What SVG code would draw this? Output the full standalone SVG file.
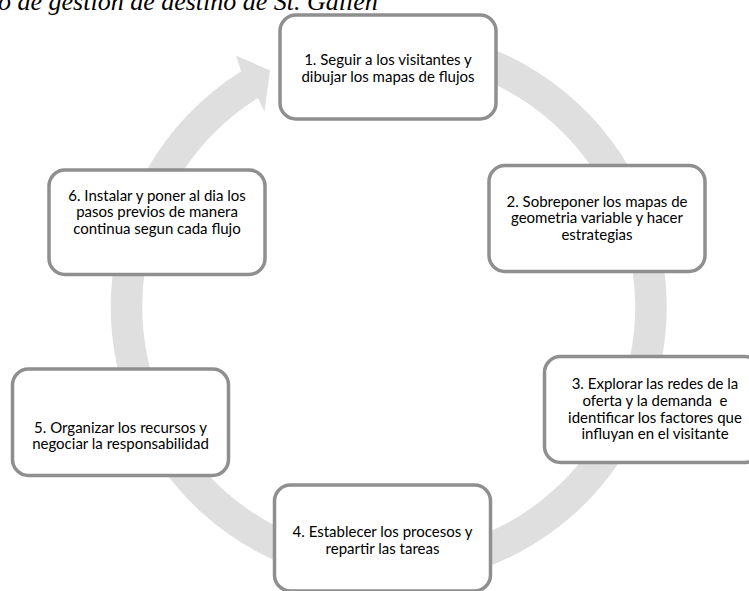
<svg xmlns="http://www.w3.org/2000/svg" width="749" height="591" viewBox="0 0 749 591">
  <style>
    .node rect { fill: #ffffff; stroke: #8f8f8f; stroke-width: 3.5; }
    .node text { font-family: Lato, "Liberation Sans", sans-serif; font-size: 15px; fill: #000000; text-anchor: middle; }
    .title { font-family: "Liberation Serif", serif; font-style: italic; font-size: 26px; fill: #000000; }
    .ring { fill: #dfdfdf; stroke: none; }
  </style>
  <rect x="0" y="0" width="749" height="591" fill="#ffffff"/>
  <text class="title" x="-2" y="10">o de gestion de destino de St. Gallen</text>
  <g id="connectors">
    <path class="ring" d="M340.2,33.2 A278,278 0 1 1 241.2,71.3 L236,55.5 L270,70.5 L264.5,111.5 L257.9,98 A246.5,246.5 0 1 0 345.7,64.2 Z"/>
  </g>
  <g id="node1" class="node">
    <rect x="280" y="15" width="216" height="104" rx="16" ry="16"/>
    <text x="388" y="65">1. Seguir a los visitantes y</text>
    <text x="388" y="81.7">dibujar los mapas de flujos</text>
  </g>
  <g id="node2" class="node">
    <rect x="489" y="165.5" width="216" height="106" rx="16" ry="16"/>
    <text x="597" y="206.7">2. Sobreponer los mapas de</text>
    <text x="597" y="223.3">geometria variable y hacer</text>
    <text x="597" y="240">estrategias</text>
  </g>
  <g id="node3" class="node">
    <rect x="544.5" y="356.5" width="216" height="106" rx="16" ry="16"/>
    <text x="655" y="389.3">3. Explorar las redes de la</text>
    <text x="655" y="406" xml:space="preserve">oferta y la demanda  e</text>
    <text x="655" y="422.7">identificar los factores que</text>
    <text x="655" y="439.3">influyan en el visitante</text>
  </g>
  <g id="node4" class="node">
    <rect x="274.5" y="485" width="216" height="106" rx="16" ry="16"/>
    <text x="382.5" y="537.3">4. Establecer los procesos y</text>
    <text x="382.5" y="554">repartir las tareas</text>
  </g>
  <g id="node5" class="node">
    <rect x="12.5" y="369" width="216" height="106.5" rx="16" ry="16"/>
    <text x="120.5" y="432.7">5. Organizar los recursos y</text>
    <text x="120.5" y="449.3">negociar la responsabilidad</text>
  </g>
  <g id="node6" class="node">
    <rect x="49" y="170" width="216" height="104.5" rx="16" ry="16"/>
    <text x="157" y="200.7">6. Instalar y poner al dia los</text>
    <text x="157" y="217.3">pasos previos de manera</text>
    <text x="157" y="234">continua segun cada flujo</text>
  </g>
</svg>
